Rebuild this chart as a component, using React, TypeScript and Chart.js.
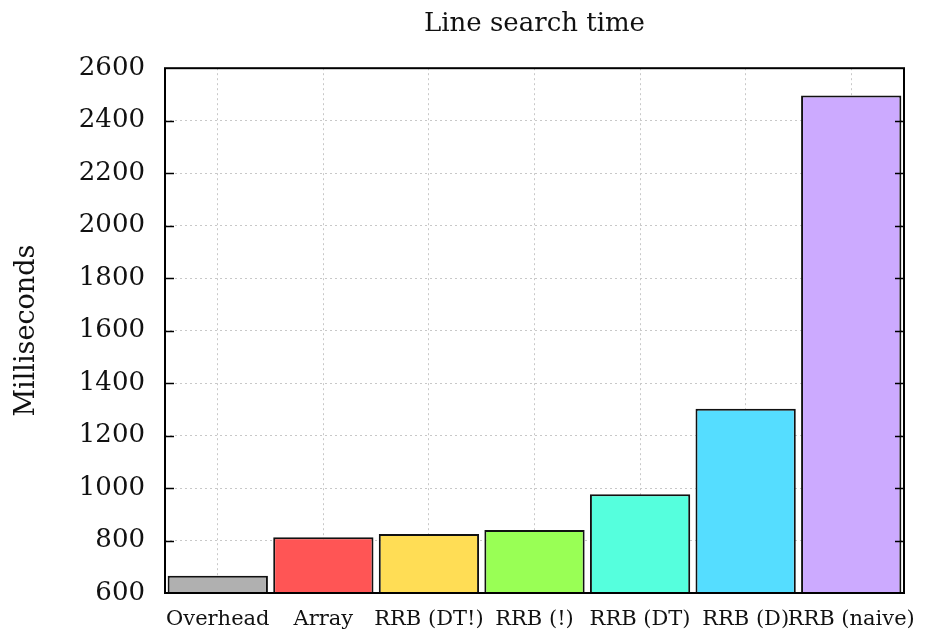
import React, { useEffect, useRef } from "react";
import { Chart, registerables } from "chart.js";

Chart.register(...registerables);

const categories = ["Overhead", "Array", "RRB (DT!)", "RRB (!)", "RRB (DT)", "RRB (D)", "RRB (naive)"];
const values = [666, 812, 825, 840, 976, 1302, 2496];
const barColors = ["#b0b0b0", "#ff5555", "#ffdd55", "#99ff55", "#55ffdd", "#55ddff", "#ccaaff"];
const yMin = 600;
const yMax = 2600;
const yStep = 200;
const titleText = "Line search time";
const yTitleText = "Milliseconds";

const FONT = "'DejaVu Serif', serif";

const framePlugin = {
  id: "frame",
  afterDatasetsDraw(chart: any) {
    const { ctx, chartArea, scales } = chart;
    const y = scales.y;
    ctx.save();
    ctx.strokeStyle = "#000";
    ctx.lineWidth = 1.5;
    y.ticks.forEach((t: any) => {
      const py = Math.round(y.getPixelForValue(t.value)) + 0.5;
      if (py <= chartArea.top + 1 || py >= chartArea.bottom - 1) return;
      ctx.beginPath();
      ctx.moveTo(chartArea.left, py);
      ctx.lineTo(chartArea.left + 9, py);
      ctx.moveTo(chartArea.right, py);
      ctx.lineTo(chartArea.right - 9, py);
      ctx.stroke();
    });
    ctx.lineWidth = 2;
    ctx.strokeRect(chartArea.left, chartArea.top, chartArea.right - chartArea.left, chartArea.bottom - chartArea.top);
    ctx.restore();
  },
};

export default function App() {
  const ref = useRef<HTMLCanvasElement>(null);
  useEffect(() => {
    if (!ref.current) return;
    const chart = new Chart(ref.current, {
      type: "bar",
      data: {
        labels: categories,
        datasets: [
          {
            data: values,
            backgroundColor: barColors,
            borderColor: "#111",
            borderWidth: 2,
            borderSkipped: false,
            barPercentage: 0.95,
            categoryPercentage: 1,
          },
        ],
      },
      options: {
        animation: false,
        responsive: false,
        devicePixelRatio: 1,
        layout: { padding: { top: 0, right: 32, bottom: 0, left: 0 } },
        plugins: {
          legend: { display: false },
          tooltip: { enabled: false },
          title: {
            display: true,
            text: titleText,
            fullSize: false,
            color: "#111",
            font: { family: FONT, size: 26, weight: "normal" },
            padding: { top: 9, bottom: 28 },
          },
        },
        scales: {
          x: {
            grid: {
              offset: false,
              color: "#c8c8c8",
              lineWidth: 1,
              drawTicks: false,
            },
            border: { display: false, dash: [2, 3] },
            ticks: {
              color: "#111",
              font: { family: FONT, size: 21 },
              autoSkip: false,
              maxRotation: 0,
              minRotation: 0,
              padding: 14,
            },
            afterFit(scale: any) {
              scale.height = 42;
            },
          },
          y: {
            min: yMin,
            max: yMax,
            grid: { color: "#c8c8c8", lineWidth: 1, drawTicks: false },
            border: { display: false, dash: [2, 3] },
            ticks: {
              stepSize: yStep,
              color: "#111",
              font: { family: FONT, size: 26 },
              padding: 20,
              callback: (v: any) => String(v),
            },
            title: {
              display: true,
              text: yTitleText,
              color: "#111",
              font: { family: FONT, size: 27 },
              padding: { top: 11, bottom: 0 },
            },
            afterFit(scale: any) {
              scale.width = 165;
            },
          },
        },
      },
      plugins: [framePlugin],
    });
    return () => chart.destroy();
  }, []);
  return (
    <div style={{ position: "fixed", left: 0, top: 0, width: 936, height: 635, background: "#fff" }}>
      <canvas ref={ref} width={936} height={635} style={{ display: "block" }} />
    </div>
  );
}
